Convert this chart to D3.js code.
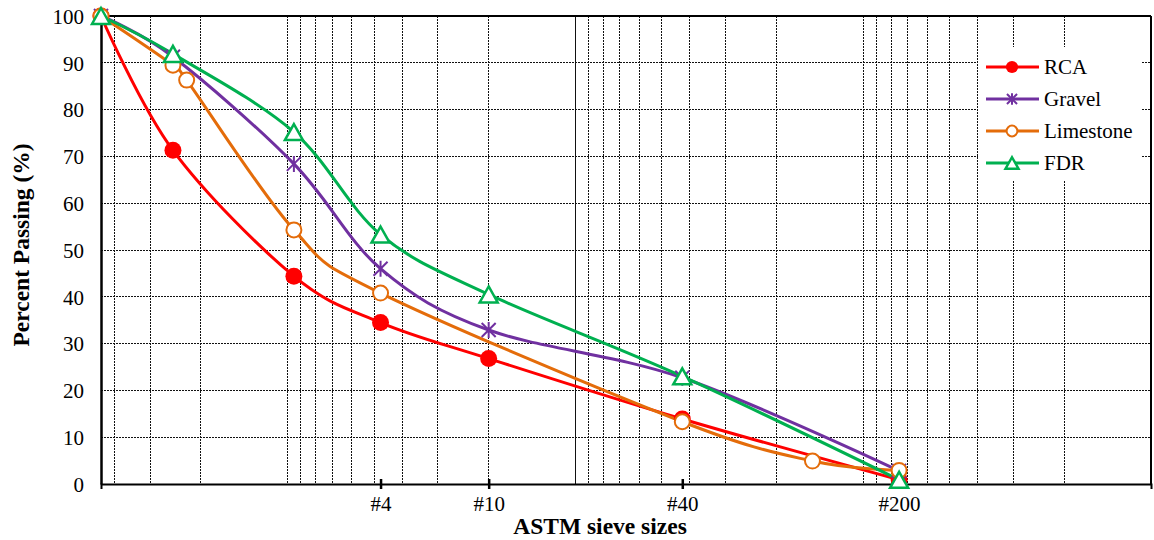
<!DOCTYPE html>
<html>
<head>
<meta charset="utf-8">
<script src="https://cdn.jsdelivr.net/npm/d3@7/dist/d3.min.js"></script>
<style>
  body { margin: 0; background: #fff; }
  text { font-family: "Liberation Serif", "Times New Roman", serif; fill: #000; }
</style>
</head>
<body>
<div id="chart"></div>
<script>

    // sieve openings (mm) and percent passing
    var rcaSize = [44.45, 25, 9.5, 4.75, 2, 0.425, 0.075];
    var rcaPass = [100, 71.3, 44.4, 34.5, 26.8, 13.9, 0.9];

    var gravelSize = [44.45, 25, 9.5, 4.75, 2, 0.425, 0.075];
    var gravelPass = [100, 91.3, 68.4, 46.0, 32.9, 22.7, 2.8];

    var limeSize = [44.45, 25, 22.4, 9.5, 4.75, 0.425, 0.15, 0.075];
    var limePass = [100, 89.5, 86.3, 54.3, 40.8, 13.3, 4.9, 2.9];

    var fdrSize = [44.45, 25, 9.5, 4.75, 2, 0.425, 0.075];
    var fdrPass = [100, 91.9, 75.2, 53.3, 40.5, 23.0, 0.9];

    var seriesNames = ["RCA", "Gravel", "Limestone", "FDR"];

    // x axis labels (ASTM sieve numbers)
    var sieveTicks = [4.75, 2, 0.425, 0.075];
    var sieveLabels = ["#4", "#10", "#40", "#200"];

    // log grid lines (mm)
    var gridSizes = [40, 30, 20, 10, 9, 8, 7, 6, 5, 4, 3, 2, 1,
      0.9, 0.8, 0.7, 0.6, 0.5, 0.4, 0.3, 0.2, 0.1,
      0.09, 0.08, 0.07, 0.06, 0.05, 0.04, 0.03, 0.02];
    var yTicks = [0, 10, 20, 30, 40, 50, 60, 70, 80, 90, 100];

    //Color Palette
    var rcaColor = "#FF0000";
    var gravelColor = "#7030A0";
    var limeColor = "#E46C0A";
    var fdrColor = "#00B050";

    const margin = { top: 16, right: 3, bottom: 56, left: 101 },
      width = 1154 - margin.left - margin.right,
      height = 540 - margin.top - margin.bottom;

    const svg = d3.select("#chart")
      .append("svg")
      .attr("width", 1154)
      .attr("height", 540);

    const g = svg.append("g")
      .attr("transform", `translate(${margin.left},${margin.top})`);

    // reversed log scale: coarse sieves on the left
    const x = d3.scaleLog()
      .domain([44.45, 0.01])
      .range([0, width]);

    const y = d3.scaleLinear()
      .domain([0, 100])
      .range([height, 0]);

    // grid
    g.selectAll(".hgrid")
      .data(yTicks.filter(function (d) { return d > 0 && d < 100; }))
      .enter()
      .append("line")
      .attr("x1", 0)
      .attr("x2", width)
      .attr("y1", function (d) { return y(d); })
      .attr("y2", function (d) { return y(d); })
      .attr("stroke", "#111")
      .attr("stroke-width", 1)
      .attr("stroke-dasharray", "2,1")
      .attr("shape-rendering", "crispEdges");

    g.selectAll(".vgrid")
      .data(gridSizes)
      .enter()
      .append("line")
      .attr("x1", function (d) { return x(d); })
      .attr("x2", function (d) { return x(d); })
      .attr("y1", 0)
      .attr("y2", height)
      .attr("stroke", "#111")
      .attr("stroke-width", 1)
      .attr("stroke-dasharray", function (d) { return d === 1 ? null : "2,1"; })
      .attr("shape-rendering", "crispEdges");

    // legend background hides the grid behind it
    var legendX = 978 - margin.left, legendY = 47 - margin.top;
    g.append("rect")
      .attr("x", legendX)
      .attr("y", legendY)
      .attr("width", 164)
      .attr("height", 133)
      .attr("fill", "#fff");

    // frame
    g.append("line").attr("x1", 0).attr("x2", width).attr("y1", 0).attr("y2", 0)
      .attr("stroke", "#000").attr("stroke-width", 2);
    g.append("line").attr("x1", width).attr("x2", width).attr("y1", 0).attr("y2", height)
      .attr("stroke", "#000").attr("stroke-width", 2);

    // y axis
    const yAxis = g.append("g")
      .call(d3.axisLeft(y).tickValues(yTicks).tickSize(0).tickPadding(17));
    yAxis.select(".domain").attr("stroke", "#000").attr("stroke-width", 2.5);
    yAxis.selectAll("text")
      .style("font-family", "Liberation Serif")
      .style("font-size", "21px")
      .attr("dy", "0.35em");

    // x axis
    const xAxis = g.append("g")
      .attr("transform", `translate(0, ${height})`)
      .call(d3.axisBottom(x).tickValues(sieveTicks)
        .tickFormat(function (d, i) { return sieveLabels[i]; })
        .tickSize(5).tickPadding(7));
    xAxis.select(".domain").attr("stroke", "#000").attr("stroke-width", 2);
    xAxis.selectAll(".tick line")
      .attr("y1", -5)
      .attr("stroke", "#000")
      .attr("stroke-width", 2.5);
    xAxis.selectAll("text")
      .style("font-family", "Liberation Serif")
      .style("font-size", "21px");

    // axis titles
    svg.append("text")
      .attr("x", 600)
      .attr("y", 534)
      .attr("text-anchor", "middle")
      .style("font-size", "23.5px")
      .style("font-weight", "bold")
      .text("ASTM sieve sizes");

    svg.append("text")
      .attr("transform", "translate(29,245)rotate(-90)")
      .attr("text-anchor", "middle")
      .style("font-size", "23.5px")
      .style("font-weight", "bold")
      .text("Percent Passing (%)");

    // markers
    function drawMarker(sel, type, color, s) {
      if (type === "RCA") {
        sel.append("circle").attr("r", 8.5 * s).attr("fill", color);
      } else if (type === "Gravel") {
        sel.append("path")
          .attr("d", `M0,${-8 * s}V${8 * s}M${-7 * s},${-7 * s}L${7 * s},${7 * s}M${-7 * s},${7 * s}L${7 * s},${-7 * s}`)
          .attr("fill", "none")
          .attr("stroke", color)
          .attr("stroke-width", 2);
      } else if (type === "Limestone") {
        sel.append("circle").attr("r", 7.5 * s)
          .attr("fill", "#fff").attr("stroke", color).attr("stroke-width", 2);
      } else {
        sel.append("path")
          .attr("d", `M0,${-8 * s}L${9 * s},${8 * s}L${-9 * s},${8 * s}Z`)
          .attr("fill", "#fff").attr("stroke", color).attr("stroke-width", 2.5)
          .attr("stroke-linejoin", "miter");
      }
    }

    var allSeries = [
      { name: "RCA", size: rcaSize, pass: rcaPass, color: rcaColor },
      { name: "Gravel", size: gravelSize, pass: gravelPass, color: gravelColor },
      { name: "Limestone", size: limeSize, pass: limePass, color: limeColor },
      { name: "FDR", size: fdrSize, pass: fdrPass, color: fdrColor }
    ];

    const line = d3.line()
      .x(function (d) { return x(d[0]); })
      .y(function (d) { return y(d[1]); })
      .curve(d3.curveCatmullRom.alpha(0));

    allSeries.forEach(function (s) {
      var pts = s.size.map(function (d, i) { return [d, s.pass[i]]; });
      g.append("path")
        .datum(pts)
        .attr("d", line)
        .attr("fill", "none")
        .attr("stroke", s.color)
        .attr("stroke-width", 3);
    });

    allSeries.forEach(function (s) {
      var pts = s.size.map(function (d, i) { return [d, s.pass[i]]; });
      g.selectAll(null)
        .data(pts)
        .enter()
        .append("g")
        .attr("transform", function (d) { return `translate(${x(d[0])},${y(d[1])})`; })
        .each(function () { drawMarker(d3.select(this), s.name, s.color, 1); });
    });

    // legend
    seriesNames.forEach(function (name, i) {
      var s = allSeries[i];
      var ly = legendY + 20 + i * 32;
      var lg = g.append("g").attr("transform", `translate(${legendX}, ${ly})`);
      lg.append("line")
        .attr("x1", 8).attr("x2", 61)
        .attr("stroke", s.color).attr("stroke-width", 3);
      var mk = lg.append("g").attr("transform", "translate(34,0)");
      drawMarker(mk, name, s.color, 0.72);
      lg.append("text")
        .attr("x", 66)
        .attr("y", 7)
        .style("font-size", "21px")
        .text(name);
    });

</script>
</body>
</html>
